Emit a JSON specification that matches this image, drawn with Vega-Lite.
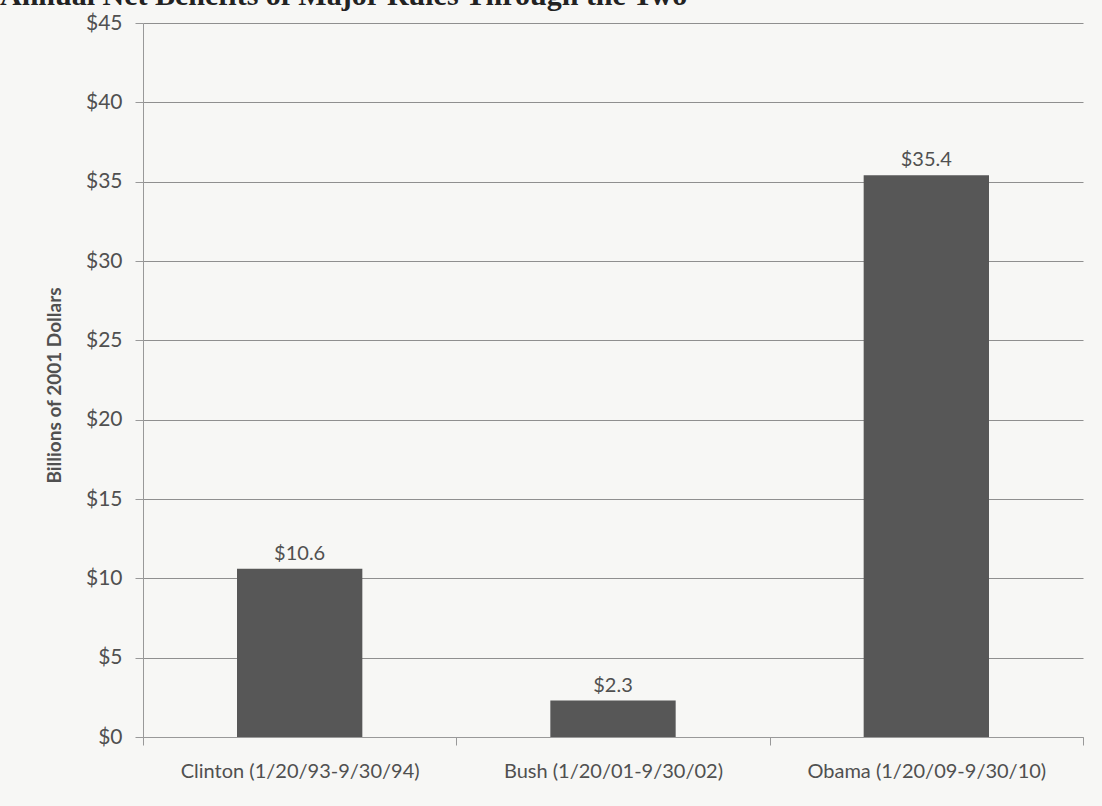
{
  "$schema": "https://vega.github.io/schema/vega-lite/v6.json",
  "autosize": {"type": "none"},
  "padding": {"left": 143, "top": 23, "right": 19, "bottom": 69},
  "width": 940,
  "height": 714,
  "background": "#f7f7f5",
  "title": {
    "text": "Annual Net Benefits of Major Rules Through the Two",
    "font": "Liberation Serif",
    "fontSize": 30,
    "fontWeight": "bold",
    "color": "#222222",
    "anchor": "start",
    "frame": "group",
    "dx": -143,
    "dy": 3
  },
  "data": {
    "values": [
      {"admin": "Clinton (1/20/93-9/30/94)", "benefit": 10.6, "label": "$10.6"},
      {"admin": "Bush (1/20/01-9/30/02)", "benefit": 2.3, "label": "$2.3"},
      {"admin": "Obama (1/20/09-9/30/10)", "benefit": 35.4, "label": "$35.4"}
    ]
  },
  "encoding": {
    "x": {
      "field": "admin",
      "type": "nominal",
      "sort": null,
      "scale": {"paddingInner": 0, "paddingOuter": 0},
      "axis": {
        "title": null,
        "labelAngle": 0,
        "labelLimit": 0,
        "labelFont": "Lato",
        "labelFontSize": 20,
        "labelColor": "#505050",
        "labelPadding": 16,
        "tickBand": "extent",
        "tickSize": 8,
        "tickColor": "#999999",
        "domainColor": "#999999",
        "grid": false
      }
    },
    "y": {
      "field": "benefit",
      "type": "quantitative",
      "scale": {"domain": [0, 45], "nice": false},
      "axis": {
        "title": "Billions of 2001 Dollars",
        "titleFont": "Lato",
        "titleFontSize": 19,
        "titleFontWeight": "bold",
        "titleColor": "#505050",
        "titleX": -89,
        "titleY": 362,
        "titleBaseline": "middle",
        "titleAngle": -90,
        "values": [0, 5, 10, 15, 20, 25, 30, 35, 40, 45],
        "format": "$.0f",
        "labelFont": "Lato",
        "labelFontSize": 21,
        "labelColor": "#505050",
        "labelPadding": 13,
        "tickSize": 8,
        "tickColor": "#999999",
        "domainColor": "#999999",
        "grid": true,
        "gridColor": "#8f8f8f",
        "gridOpacity": 1
      }
    }
  },
  "layer": [
    {"mark": {"type": "bar", "color": "#575757", "width": {"band": 0.4}}},
    {
      "mark": {
        "type": "text",
        "baseline": "alphabetic",
        "dy": -9,
        "font": "Lato",
        "fontSize": 20,
        "color": "#505050"
      },
      "encoding": {"text": {"field": "label"}}
    }
  ],
  "config": {"view": {"stroke": null}}
}
